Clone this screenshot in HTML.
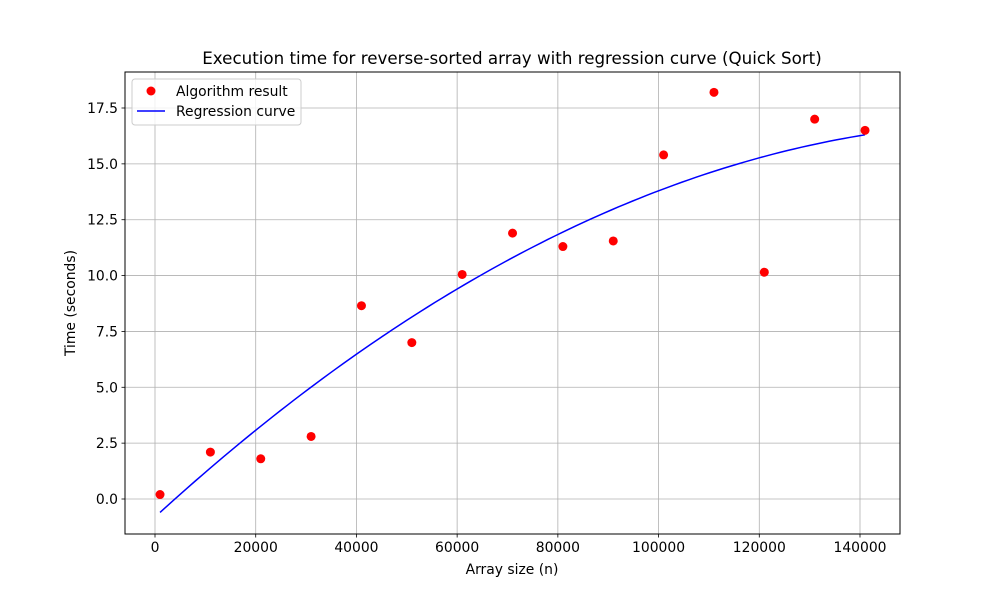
<!DOCTYPE html>
<html><head><meta charset="utf-8"><style>
body{margin:0;background:#fff;}
svg{font-family:"DejaVu Sans","Liberation Sans",sans-serif;}
</style></head><body>
<svg id="chart" width="1000" height="600">
<rect x="0" y="0" width="1000" height="600" fill="#fff"/>
<g id="grid"></g>
<g id="curve-layer"></g>
<g id="points-layer"></g>
<rect x="125" y="72" width="775" height="462" fill="none" stroke="#000" stroke-width="1"/>
<g id="ticks"></g>
<text x="512" y="64" text-anchor="middle" font-size="16.7">Execution time for reverse-sorted array with regression curve (Quick Sort)</text>
<text x="512" y="574" text-anchor="middle" font-size="13.9">Array size (n)</text>
<text transform="translate(75,303) rotate(-90)" text-anchor="middle" font-size="13.9">Time (seconds)</text>
<g>
<rect x="132" y="79" width="169" height="46" rx="3" fill="#fff" fill-opacity="0.8" stroke="#ccc"/>
<circle cx="151" cy="91" r="4.5" fill="red"/>
<text x="176" y="96" font-size="13.9">Algorithm result</text>
<line x1="137" y1="111" x2="165" y2="111" stroke="blue" stroke-width="1.5"/>
<text x="176" y="116" font-size="13.9">Regression curve</text>
</g>
</svg>
<script>
const xValues=[1000,11000,21000,31000,41000,51000,61000,71000,81000,91000,101000,111000,121000,131000,141000];
const yValues=[0.2,2.1,1.8,2.8,8.65,7.0,10.05,11.9,11.3,11.55,15.4,18.2,10.15,17.0,16.5];
const regCoef=[-0.8056,0.2062e-3,-0.000602e-6];
const xTicks=[0,20000,40000,60000,80000,100000,120000,140000];
const yTicks=[0,2.5,5,7.5,10,12.5,15,17.5];
const yTickLabels=["0.0","2.5","5.0","7.5","10.0","12.5","15.0","17.5"];
const NS="http://www.w3.org/2000/svg";
function sx(v){return 155+v*705/140000;}
function sy(v){return 499-v*(499-108)/17.5;}
function mk(tag,attrs,parent){const e=document.createElementNS(NS,tag);for(const k in attrs)e.setAttribute(k,attrs[k]);document.getElementById(parent).appendChild(e);return e;}
xTicks.forEach(t=>{
 const g=mk('line',{x1:sx(t),x2:sx(t),y1:72,y2:534,stroke:'#b0b0b0','stroke-width':0.8},'grid');
 
 
 const k=mk('line',{x1:sx(t),x2:sx(t),y1:534,y2:537.5,stroke:'#000','stroke-width':0.8},'ticks');
 
 
 const l=mk('text',{x:sx(t),y:552,'text-anchor':'middle','font-size':13.9},'ticks');
 l.textContent=String(t);
 
 
});
yTicks.forEach((t,i)=>{
 const g=mk('line',{x1:125,x2:900,y1:sy(t),y2:sy(t),stroke:'#b0b0b0','stroke-width':0.8},'grid');
 
 
 const k=mk('line',{x1:121.5,x2:125,y1:sy(t),y2:sy(t),stroke:'#000','stroke-width':0.8},'ticks');
 
 
 const l=mk('text',{x:118,y:sy(t)+5,'text-anchor':'end','font-size':13.9},'ticks');
 l.textContent=yTickLabels[i];
 
 
});
const x0=xValues[0],x1=xValues[xValues.length-1];
let d='';
for(let i=0;i<=100;i++){const x=x0+(x1-x0)*i/100;const y=regCoef[0]+regCoef[1]*x+regCoef[2]*x*x;d+=(i?'L':'M')+sx(x).toFixed(2)+','+sy(y).toFixed(2);}
const p=mk('path',{d:d,fill:'none',stroke:'blue','stroke-width':1.5},'curve-layer');


xValues.forEach((x,i)=>{
 const c=mk('circle',{cx:sx(x),cy:sy(yValues[i]),r:4.5,fill:'red'},'points-layer');
 
 
});
</script>
</body></html>
